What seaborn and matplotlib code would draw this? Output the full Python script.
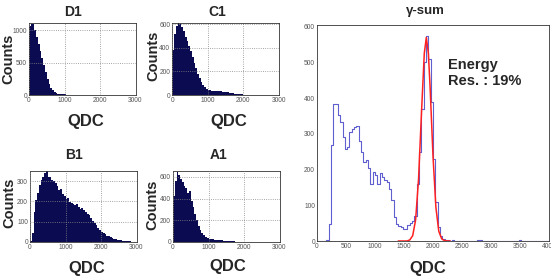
import numpy as np
import pandas as pd
import matplotlib
matplotlib.use("Agg")
import matplotlib.pyplot as plt
from matplotlib.ticker import MultipleLocator
import seaborn as sns

# ---- data ----
small_edges = np.arange(0, 3001, 50)
big_edges = np.arange(0, 4001, 40)

d1_counts = [1060, 1100, 1090, 1000, 900, 790, 680, 570, 460, 350,
             250, 170, 110, 70, 45, 30, 22, 16, 12, 10,
             8, 7, 6, 5, 5, 4, 4, 3, 3, 2,
             2, 1, 1, 1, 0, 1, 0, 0, 1, 0,
             0, 0, 0, 0, 0, 0, 0, 0, 0, 0,
             0, 0, 0, 0, 0, 0, 0, 0, 0, 0]
c1_counts = [380, 520, 585, 610, 605, 575, 540, 495, 455, 420,
             370, 320, 270, 230, 180, 145, 110, 85, 65, 55,
             45, 42, 38, 36, 33, 36, 30, 32, 27, 25,
             22, 24, 18, 16, 14, 11, 9, 7, 6, 5,
             4, 3, 3, 2, 2, 1, 1, 1, 0, 1,
             0, 0, 0, 0, 0, 0, 0, 0, 0, 0]
b1_counts = [5, 45, 150, 205, 240, 282, 305, 322, 340, 348,
             318, 320, 305, 300, 292, 278, 258, 262, 235, 225,
             210, 215, 195, 192, 186, 180, 185, 175, 165, 170,
             157, 150, 140, 132, 118, 105, 95, 82, 70, 60,
             50, 44, 38, 32, 28, 24, 20, 17, 15, 12,
             10, 8, 7, 6, 5, 4, 3, 2, 2, 1]
a1_counts = [420, 560, 650, 620, 585, 555, 520, 500, 455, 470,
             380, 320, 255, 200, 150, 110, 80, 60, 45, 38,
             32, 28, 25, 22, 22, 18, 16, 14, 12, 10,
             9, 8, 6, 5, 5, 4, 3, 3, 2, 2,
             1, 1, 0, 1, 0, 0, 0, 0, 0, 0,
             0, 0, 0, 0, 0, 0, 0, 0, 0, 0]
gsum_counts = [0, 0, 0, 0, 2, 49, 268, 383, 383, 352,
               333, 291, 259, 262, 306, 313, 320, 322, 280, 250,
               222, 228, 205, 160, 193, 185, 160, 190, 180, 172,
               165, 146, 115, 66, 49, 42, 40, 35, 35, 44,
               50, 56, 70, 160, 250, 370, 500, 575, 510, 390,
               230, 110, 40, 15, 5, 3, 2, 1, 2, 0,
               1, 0, 1, 0, 0, 1, 0, 0, 1, 2,
               3, 1, 0, 1, 0, 0, 1, 0, 0, 1,
               0, 0, 1, 0, 0, 1, 0, 2, 1, 0,
               0, 1, 0, 1, 0, 1, 0, 0, 0, 0]
fit_x = [1400, 1500, 1550, 1600, 1650, 1700, 1750, 1800, 1850, 1885,
         1920, 1950, 2000, 2050, 2100, 2150, 2200, 2250, 2300]
fit_y = [0, 0, 0, 3, 15, 59, 171, 354, 526, 570,
         526, 431, 238, 94, 27, 6, 1, 0, 0]

panels = [("D1", d1_counts, 1110, 500), ("C1", c1_counts, 612, 200),
          ("B1", b1_counts, 350, 100), ("A1", a1_counts, 655, 200)]

sns.set_style("white")
plt.rcParams['font.family'] = ['Liberation Sans', 'DejaVu Sans']

W, H = 551, 278
fig = plt.figure(figsize=(W / 100, H / 100), dpi=100)


def px_axes(x0, y0, x1, y1):
    return fig.add_axes([x0 / W, 1 - y1 / H, (x1 - x0) / W, (y1 - y0) / H])


def px_text(x, y, s, **kw):
    fig.text(x / W, 1 - y / H, s, **kw)


def style_ticks(ax):
    for lab in ax.get_xticklabels() + ax.get_yticklabels():
        lab.set_fontfamily(['Liberation Sans Narrow', 'Liberation Sans'])
        lab.set_fontsize(4.8)
        lab.set_color('#555555')
    ax.set_xlabel('')
    ax.set_ylabel('')
    for s in ax.spines.values():
        s.set_color('#333333')
        s.set_linewidth(0.6)


fill_col = '#0b0b52'

boxes = [(29, 23, 135.5, 95), (172.3, 23, 278.8, 95),
         (30, 171, 136.5, 242), (173, 171, 279.5, 242)]
title_pos = [(73, 12), (217, 12), (74, 155), (219, 155)]
ylab_pos = [(8, 59), (153, 56), (9, 203), (152, 205)]
xlab_pos = [(86, 122), (229, 122), (87, 268), (228, 266)]

centers = (small_edges[:-1] + small_edges[1:]) / 2
for (name, counts, ymax, ystep), box, tp, yp, xp in zip(panels, boxes, title_pos, ylab_pos, xlab_pos):
    ax = px_axes(*box)
    df = pd.DataFrame({'qdc': centers, 'n': counts})
    sns.histplot(data=df, x='qdc', weights='n', bins=list(small_edges), element='step',
                 fill=True, color=fill_col, alpha=1, linewidth=0, ax=ax)
    ax.set_xlim(0, 3000)
    ax.set_ylim(0, ymax)
    ax.xaxis.set_major_locator(MultipleLocator(1000))
    ax.yaxis.set_major_locator(MultipleLocator(ystep))
    ax.grid(True, linestyle=':', color='#888888', linewidth=0.6)
    ax.set_axisbelow(False)
    ax.tick_params(direction='in', length=2, width=0.5, pad=1.5)
    style_ticks(ax)
    px_text(tp[0], tp[1], name, ha='center', va='center', fontsize=10, fontweight='bold')
    px_text(yp[0], yp[1], 'Counts', ha='center', va='center', fontsize=10.5,
            fontweight='bold', rotation=90)
    px_text(xp[0], xp[1], 'QDC', ha='center', va='center', fontsize=12, fontweight='bold')

# ---- big gamma-sum panel ----
ax = px_axes(317, 25, 549, 241)
big_centers = (big_edges[:-1] + big_edges[1:]) / 2
gdf = pd.DataFrame({'qdc': big_centers, 'n': gsum_counts})
sns.histplot(data=gdf, x='qdc', weights='n', bins=list(big_edges), element='step',
             fill=False, color='#5f5fd0', linewidth=0.8, ax=ax)
fdf = pd.DataFrame({'qdc': fit_x, 'n': fit_y})
sns.lineplot(data=fdf, x='qdc', y='n', color='#ff2020', linewidth=1.1, ax=ax)
ax.set_xlim(0, 4000)
ax.set_ylim(0, 605)
ax.xaxis.set_major_locator(MultipleLocator(500))
ax.xaxis.set_minor_locator(MultipleLocator(100))
ax.yaxis.set_major_locator(MultipleLocator(100))
ax.yaxis.set_minor_locator(MultipleLocator(20))
ax.tick_params(which='major', direction='in', length=4, width=0.5, pad=1.5, color='#333333')
ax.tick_params(which='minor', direction='in', length=2, width=0.5, color='#333333')
style_ticks(ax)

px_text(425, 11, 'γ-sum', ha='center', va='center', fontsize=9.5, fontweight='bold')
px_text(428, 268, 'QDC', ha='center', va='center', fontsize=12, fontweight='bold')
px_text(448, 65, 'Energy', ha='left', va='center', fontsize=10.5, fontweight='bold')
px_text(448, 81, 'Res. : 19%', ha='left', va='center', fontsize=10.5, fontweight='bold')

fig.savefig('out.png', dpi=100)
